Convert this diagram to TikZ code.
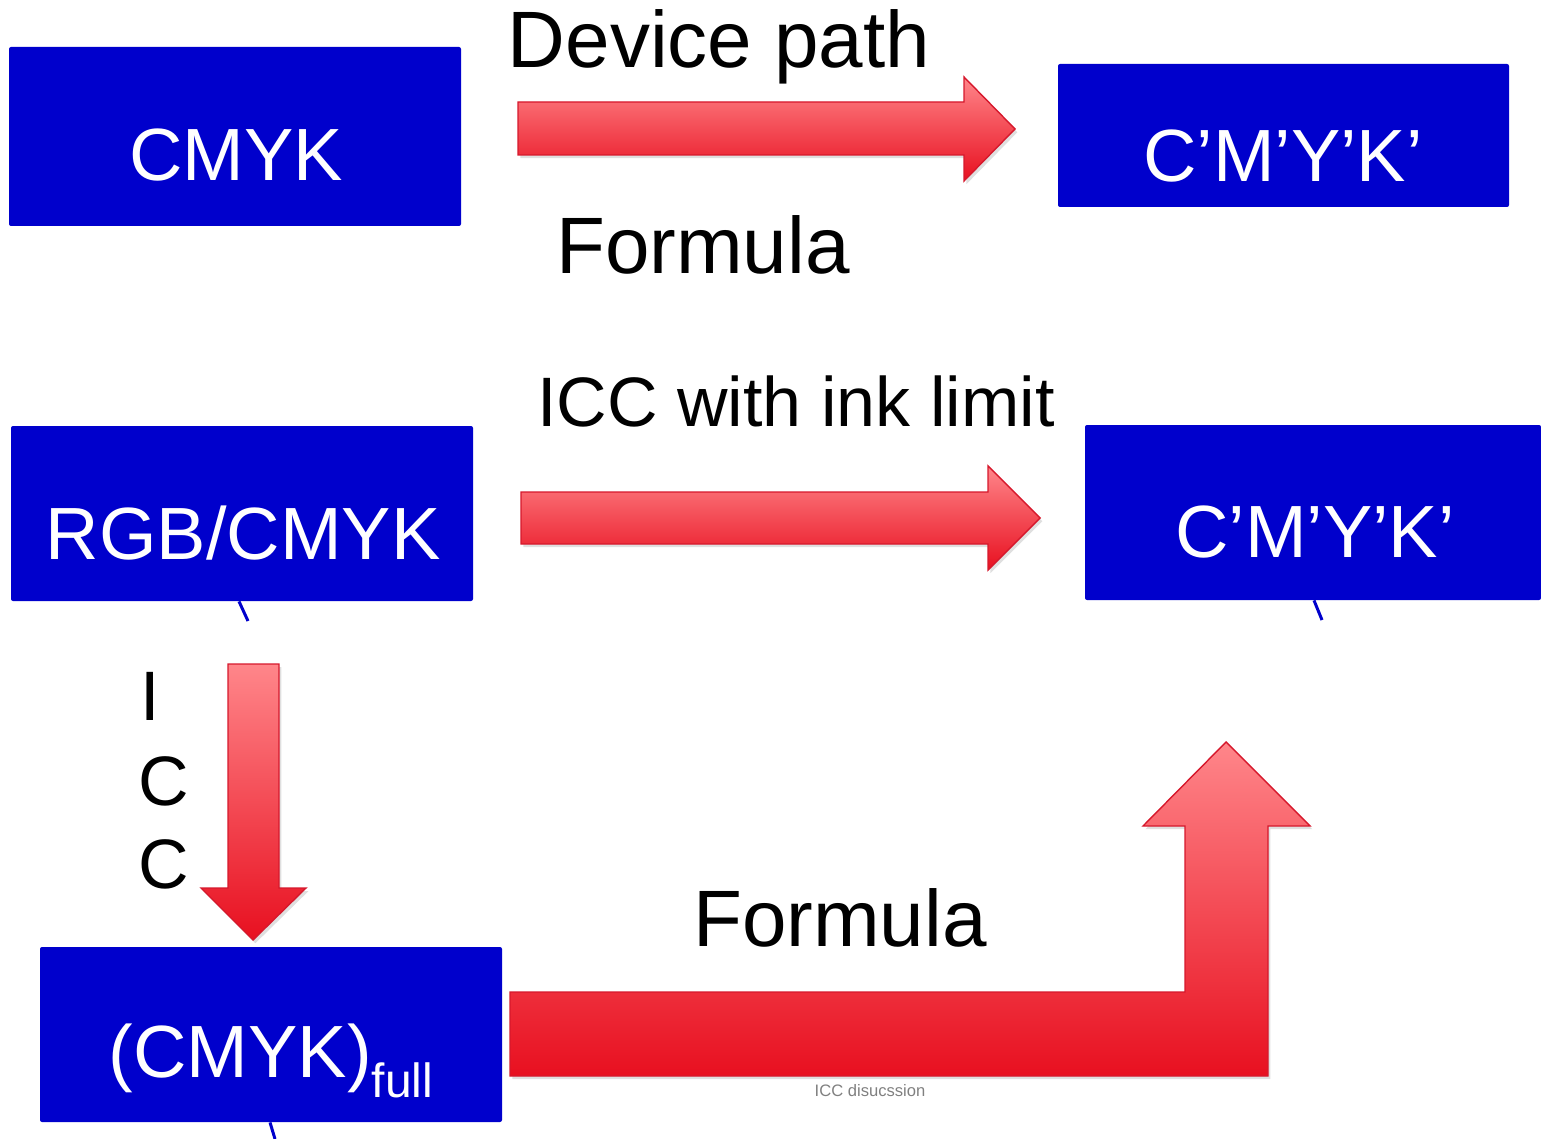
\documentclass[tikz,border=0pt]{standalone}
\usepackage{fontspec}
\setmainfont{Liberation Sans}
\usetikzlibrary{shadows}

\definecolor{boxblue}{RGB}{0,0,204}
\definecolor{arrowtop}{RGB}{255,134,138}
\definecolor{arrowbot}{RGB}{232,16,32}
\definecolor{arrowedge}{RGB}{214,24,44}
\definecolor{footgray}{RGB}{128,128,128}

\tikzset{
  colorbox/.style={draw=none, fill=boxblue, rounded corners=1pt, inner sep=0pt},
  boxtext/.style={text=white, inner sep=0pt, anchor=base,
    font=\fontsize{37}{44}\selectfont},
  labeltext/.style={text=black, inner sep=0pt, anchor=base,
    font=\fontsize{40}{48}\selectfont},
  midtext/.style={text=black, inner sep=0pt, anchor=base,
    font=\fontsize{35}{42}\selectfont},
  blockarrow/.style={top color=arrowtop, bottom color=arrowbot,
    draw=arrowedge, line width=0.7pt, line join=miter,
    drop shadow={opacity=0.25, shadow xshift=1.2pt, shadow yshift=-1.6pt}},
  blueline/.style={draw=boxblue, line width=1.5pt},
}

\begin{document}
\begin{tikzpicture}[x=0.5pt, y=-0.5pt]
  \useasboundingbox (0,0) rectangle (1541,1139);

  % colour-space boxes
  \node[colorbox, minimum width=226pt, minimum height=89.5pt] (cmyk) at (235,136.5) {};
  \node[colorbox, minimum width=225.5pt, minimum height=71.5pt] (outA) at (1283.5,135.5) {};
  \node[colorbox, minimum width=231pt, minimum height=87.5pt] (rgb) at (242,513.5) {};
  \node[colorbox, minimum width=228pt, minimum height=87.5pt] (outB) at (1313,512.5) {};
  \node[colorbox, minimum width=231pt, minimum height=87.5pt] (full) at (271,1034.5) {};

  % box captions
  \node[boxtext] (tcmyk) at (236,181) {CMYK};
  \node[boxtext] (toutA) at (1283,182) {C’M’Y’K’};
  \node[boxtext] (trgb) at (243,559) {RGB/CMYK};
  \node[boxtext] (toutB) at (1315,557) {C’M’Y’K’};
  \node[boxtext] (tfull) at (271,1077) {(CMYK)\raisebox{-10pt}{\fontsize{24}{28}\selectfont full}};

  % short connector stubs leaving the boxes
  \coordinate (sA) at (248,621);
  \coordinate (sB) at (1322,620);
  \coordinate (sC) at (275,1139);
  \draw[blueline] ([xshift=-1.5pt]rgb.south) -- (sA);
  \draw[blueline] ([xshift=0.5pt]outB.south) -- (sB);
  \draw[blueline] ([xshift=-0.5pt]full.south) -- (sC);

  % block arrows
  \path[blockarrow] (518,102) -- (964,102) -- (964,77) -- (1015,129)
    -- (964,181) -- (964,155) -- (518,155) -- cycle;
  \path[blockarrow] (521,492) -- (988,492) -- (988,466) -- (1040,518)
    -- (988,570) -- (988,544) -- (521,544) -- cycle;
  \path[blockarrow] (228,664) -- (279,664) -- (279,888) -- (306,888)
    -- (253,940) -- (201,888) -- (228,888) -- cycle;
  \path[blockarrow] (510,992) -- (1185,992) -- (1185,826) -- (1143,826)
    -- (1226,742) -- (1310,826) -- (1268,826) -- (1268,1076)
    -- (510,1076) -- cycle;

  % arrow labels
  \node[labeltext] (ldev) at (719,68) {Device path};
  \node[labeltext] (lform1) at (703,273) {Formula};
  \node[midtext] (licc) at (796,426) {ICC with ink limit};
  \node[labeltext] (lform2) at (840,946) {Formula};
  \node[midtext] (li) at (150,720) {I};
  \node[midtext] (lc1) at (164,805) {C};
  \node[midtext] (lc2) at (164,888) {C};

  % footer
  \node[text=footgray, inner sep=0pt, anchor=base, font=\fontsize{8.3}{10}\selectfont]
    (foot) at (870,1096) {ICC disucssion};
\end{tikzpicture}
\end{document}
